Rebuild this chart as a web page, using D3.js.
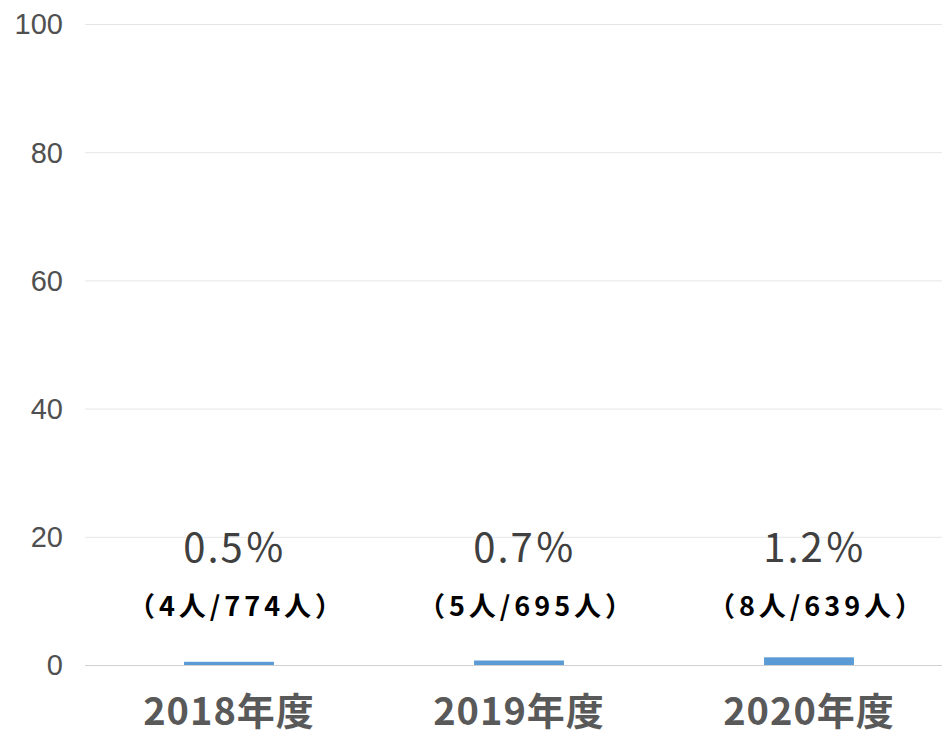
<!DOCTYPE html>
<html lang="ja">
<head>
<meta charset="utf-8">
<style>
  body { margin: 0; background: #fff; }
  text { font-family: "Liberation Sans", "Noto Sans CJK JP", sans-serif; }
  text.jp { font-family: "Noto Sans CJK JP", sans-serif; }
</style>
</head>
<body>
<script src="https://d3js.org/d3.v7.min.js"></script>
<script>
    var width = 942, height = 736;

    // data
    var years = ['2018年度', '2019年度', '2020年度'];
    var rates = [0.5, 0.7, 1.2];
    var counts = ['（4人/774人）', '（5人/695人）', '（8人/639人）'];
    var yTicks = [0, 20, 40, 60, 80, 100];

    var svg = d3.select('body').append('svg')
        .attr('width', width).attr('height', height);

    var x = d3.scaleBand().domain(years).range([84, 954]).paddingInner(0.69).paddingOuter(0.345);
    var y = d3.scaleLinear().domain([0, 100]).range([665, 24]);

    // gridlines
    svg.selectAll('line.grid')
        .data(yTicks)
        .join('line')
        .attr('class', 'grid')
        .attr('x1', 85).attr('x2', width)
        .attr('y1', function (d) { return y(d) + 0.5 })
        .attr('y2', function (d) { return y(d) + 0.5 })
        .attr('stroke', function (d) { return d === 0 ? '#d0d0d0' : '#e6e6e6' })
        .attr('stroke-width', 1);

    // y tick labels
    svg.selectAll('text.ytick')
        .data(yTicks)
        .join('text')
        .attr('class', 'ytick')
        .attr('x', 63)
        .attr('y', function (d) { return y(d) })
        .attr('dy', '0.36em')
        .attr('text-anchor', 'end')
        .attr('font-size', 29)
        .attr('fill', '#505050')
        .text(function (d) { return d });

    // bars
    svg.selectAll('rect.bar')
        .data(rates)
        .join('rect')
        .attr('class', 'bar')
        .attr('x', function (d, i) { return x(years[i]) })
        .attr('width', x.bandwidth())
        .attr('y', function (d) { return y(d) })
        .attr('height', function (d) { return y(0) - y(d) })
        .attr('fill', '#5b9bd5');

    // percent labels
    svg.selectAll('text.pct')
        .data(rates)
        .join('text')
        .attr('class', 'pct jp')
        .attr('x', function (d, i) { return x(years[i]) + x.bandwidth() / 2 + 6 })
        .attr('y', 562)
        .attr('text-anchor', 'middle')
        .attr('font-size', 40)
        .attr('letter-spacing', 2)
        .attr('fill', '#404040')
        .text(function (d) { return d.toFixed(1) + '％' });

    // count labels
    svg.selectAll('text.cnt')
        .data(counts)
        .join('text')
        .attr('class', 'cnt jp')
        .attr('x', function (d, i) { return x(years[i]) + x.bandwidth() / 2 + 8 })
        .attr('y', 616)
        .attr('text-anchor', 'middle')
        .attr('font-size', 27)
        .attr('font-weight', 'bold')
        .attr('letter-spacing', 4)
        .attr('fill', '#000')
        .text(function (d) { return d });

    // category labels
    svg.selectAll('text.cat')
        .data(years)
        .join('text')
        .attr('class', 'cat jp')
        .attr('x', function (d) { return x(d) + x.bandwidth() / 2 })
        .attr('y', 725)
        .attr('text-anchor', 'middle')
        .attr('font-size', 38)
        .attr('letter-spacing', 1)
        .attr('font-weight', 'bold')
        .attr('fill', '#595959')
        .text(function (d) { return d });
</script>
</body>
</html>
